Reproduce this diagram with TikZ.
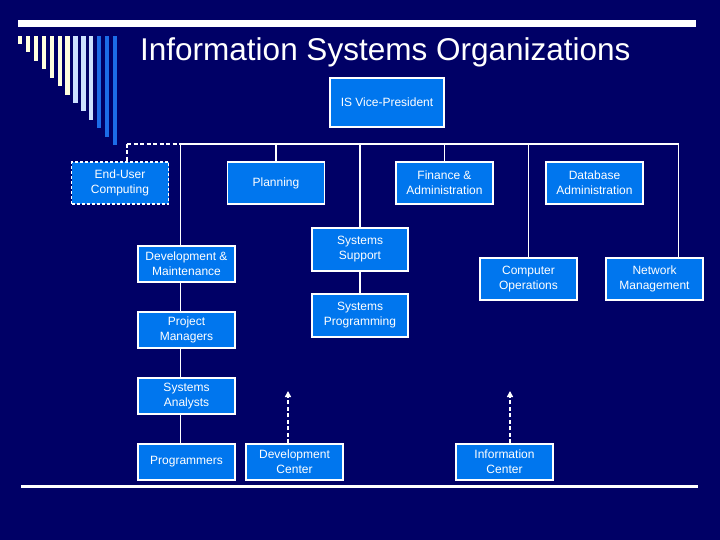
\documentclass[tikz,border=0pt]{standalone}
\usepackage{fontspec}
\setmainfont{Liberation Sans}
\usetikzlibrary{
  arrows.meta,
  positioning
}
\definecolor{slidenavy}{RGB}{0,0,102}
\definecolor{unitblue}{RGB}{0,118,238}
\definecolor{barcream}{RGB}{255,255,222}
\definecolor{barpale}{RGB}{204,224,255}
\definecolor{barblue}{RGB}{28,108,232}
\tikzset{
  unit/.style={draw=white,line width=1.2pt,fill=unitblue,text=white,
    align=center,inner sep=1pt,minimum width=97pt,minimum height=42pt,
    font=\fontsize{12}{15}\selectfont},
  lowunit/.style={unit,minimum height=36pt},
  optunit/.style={unit,dash pattern=on 3pt off 2pt},
  link/.style={draw=white,line width=1.3pt},
  optlink/.style={link,dash pattern=on 4pt off 2.5pt},
  feedback/.style={-{Triangle[length=6pt,width=6pt]},draw=white,
    line width=2pt,dash pattern=on 4pt off 2.5pt},
  slidetitle/.style={anchor=base west,inner sep=0pt,text=white,
    font=\fontsize{31.5}{36}\selectfont}
}
\begin{document}
\begin{tikzpicture}[x=1pt,y=-1pt,node distance=28.8pt and 9.8pt]
  % slide background and rules
  \fill[slidenavy] (0,0) rectangle (720,540);
  \fill[white] (18,20) rectangle (696,27);
  \fill[white] (21,485) rectangle (698,488);
  \foreach \i/\c in {0/barcream,1/barcream,2/barcream,3/barcream,4/barcream,
      5/barcream,6/barcream,7/barpale,8/barpale,9/barpale,10/barblue,
      11/barblue,12/barblue}
    \fill[\c] ({18+7.9*\i},36) rectangle ({22.3+7.9*\i},{44+8.42*\i});
  \node[slidetitle] (title) at (140,61) {Information Systems Organizations};

  % top level
  \node[unit,minimum width=114pt,minimum height=49pt] (vp) at (387,102.5) {IS Vice-President};
  \node[optunit] (euc) at (120,183) {End-User\\Computing};
  \node[unit] (plan) at (276,183) {Planning};
  \node[unit] (fin) at (444.5,183) {Finance \&\\Administration};
  \node[unit] (dba) at (594.5,183) {Database\\Administration};
  \node[unit,minimum width=96pt,minimum height=43pt] (ss) at (360,249.5) {Systems\\Support};
  \node[unit,minimum width=96pt,minimum height=43pt,below=21.8pt of ss] (sp) {Systems\\Programming};
  \node[unit] (cops) at (528.5,279) {Computer\\Operations};
  \node[unit] (netm) at (654.5,279) {Network\\Management};

  % development column
  \node[lowunit] (dm) at (186.5,264) {Development \&\\Maintenance};
  \node[lowunit,below=of dm] (pm) {Project\\Managers};
  \node[lowunit,below=of pm] (sa) {Systems\\Analysts};
  \node[lowunit,below=of sa] (prog) {Programmers};
  \node[lowunit,right=of prog] (dc) {Development\\Center};
  \node[lowunit] (ic) at (504.5,462) {Information\\Center};

  % bus and drops
  \coordinate (eucdrop) at (127,144);
  \coordinate (devdrop) at (180.5,144);
  \coordinate (netdrop) at (678.5,144);
  \coordinate (dctip) at (288,391);
  \coordinate (ictip) at (510,391);
  \draw[optlink] (eucdrop) -- (devdrop);
  \draw[optlink] (eucdrop) -- (eucdrop |- euc.north);
  \draw[link] (devdrop) -- (netdrop);
  \draw[link] (devdrop) -- (devdrop |- dm.north);
  \draw[link] (plan.north |- devdrop) -- (plan.north);
  \draw[link] (ss.north |- devdrop) -- (ss.north);
  \draw[link] (fin.north |- devdrop) -- (fin.north);
  \draw[link] (cops.north |- devdrop) -- (cops.north);
  \draw[link] (netdrop) -- (netdrop |- netm.north);
  \draw[link] (ss) -- (sp);
  \draw[link] (dm.south -| devdrop) -- (pm.north -| devdrop);
  \draw[link] (pm.south -| devdrop) -- (sa.north -| devdrop);
  \draw[link] (sa.south -| devdrop) -- (prog.north -| devdrop);
  \draw[feedback] (dctip |- dc.north) -- (dctip);
  \draw[feedback] (ictip |- ic.north) -- (ictip);
\end{tikzpicture}
\end{document}
